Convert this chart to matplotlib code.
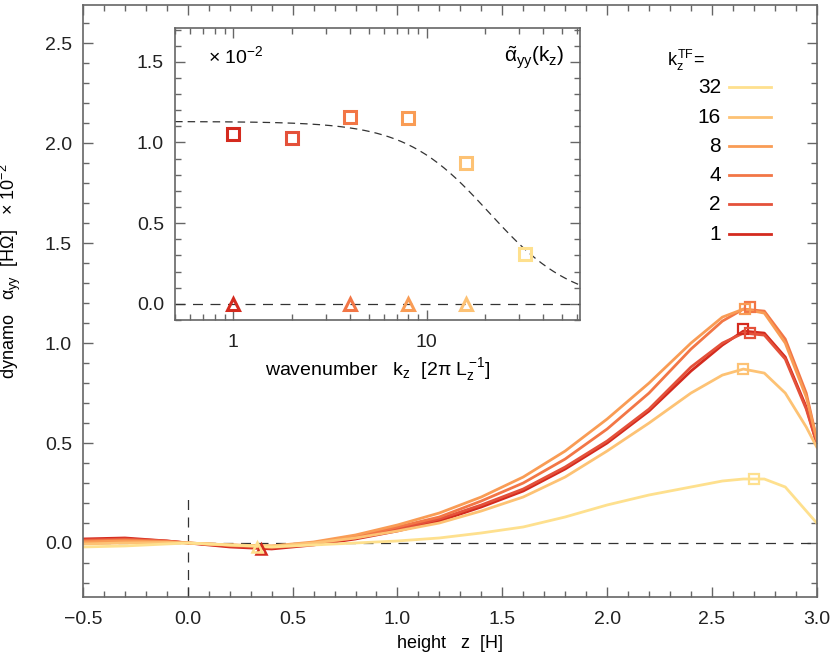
import numpy as np
import matplotlib
matplotlib.use("Agg")
import matplotlib.pyplot as plt
from matplotlib.ticker import MultipleLocator

plt.rcParams["font.family"] = "Liberation Sans"
plt.rcParams["mathtext.fontset"] = "custom"
plt.rcParams["mathtext.rm"] = "Liberation Sans"
plt.rcParams["mathtext.it"] = "Liberation Sans"

labels = ["1", "2", "4", "8", "16", "32"]
colors = ["#D42A1E", "#E4513A", "#F27646", "#F99C55", "#FDC274", "#FEE08E"]
z = [-0.5, -0.3, -0.1, 0, 0.2, 0.4, 0.6, 0.8, 1.0, 1.2, 1.4, 1.6, 1.8, 2.0, 2.2, 2.4, 2.55, 2.65, 2.75, 2.85, 2.95, 3.0]
alpha_k1 = [0.02, 0.025, 0.01, 0, -0.02, -0.03, -0.01, 0.02, 0.06, 0.11, 0.18, 0.26, 0.37, 0.50, 0.66, 0.86, 0.99, 1.06, 1.05, 0.93, 0.68, 0.50]
alpha_k2 = [0.015, 0.02, 0.01, 0, -0.015, -0.025, -0.005, 0.025, 0.07, 0.12, 0.19, 0.27, 0.38, 0.51, 0.67, 0.88, 1.00, 1.05, 1.04, 0.92, 0.67, 0.50]
alpha_k4 = [0.01, 0.015, 0.008, 0, -0.01, -0.02, 0.0, 0.03, 0.08, 0.13, 0.21, 0.30, 0.42, 0.57, 0.75, 0.97, 1.11, 1.17, 1.16, 1.02, 0.75, 0.52]
alpha_k8 = [0.005, 0.01, 0.005, 0, -0.01, -0.015, 0.005, 0.04, 0.09, 0.15, 0.23, 0.33, 0.46, 0.62, 0.80, 1.00, 1.13, 1.17, 1.15, 1.0, 0.73, 0.52]
alpha_k16 = [-0.005, 0, 0.002, 0, -0.01, -0.015, 0, 0.025, 0.06, 0.10, 0.16, 0.23, 0.33, 0.46, 0.60, 0.75, 0.84, 0.87, 0.85, 0.75, 0.58, 0.48]
alpha_k32 = [-0.02, -0.015, -0.005, 0, -0.01, -0.02, -0.01, 0.0, 0.01, 0.025, 0.05, 0.08, 0.13, 0.19, 0.24, 0.28, 0.31, 0.32, 0.32, 0.28, 0.16, 0.10]
peak_z = [2.65, 2.68, 2.68, 2.66, 2.65, 2.70]
peak_a = [1.07, 1.05, 1.18, 1.17, 0.87, 0.32]
tri_z = [0.35, 0.33]
tri_a = [-0.03, -0.02]
tri_col = [0, 5]

kz = [1, 2, 4, 8, 16, 32]
alpha_tilde = [1.05, 1.03, 1.16, 1.15, 0.87, 0.31]
kz_tri = [1, 4, 8, 16]
tri_val = [0.0, 0.0, 0.0, 0.0]
tri_idx = [0, 2, 3, 4]
fit_amp, fit_k0 = 1.13, 21.0

series = [alpha_k1, alpha_k2, alpha_k4, alpha_k8, alpha_k16, alpha_k32]

fig = plt.figure(figsize=(8.30, 6.64), dpi=100)
ax = fig.add_axes([0.100, 0.101, 0.884, 0.891])

def style(a):
    a.tick_params(which="both", direction="in", top=True, right=True, labelsize=14,
                  color="#666", labelcolor="#222")
    a.tick_params(which="major", length=7, width=1)
    a.tick_params(which="minor", length=4, width=1)
    for s in a.spines.values():
        s.set_linewidth(1.2)
        s.set_color("#666")

ax.axhline(0, color="#333", ls=(0, (8, 6)), lw=0.9)
ax.plot([0, 0], [-0.27, 0.25], color="#333", ls=(0, (8, 6)), lw=0.9)
for i in range(6):
    ax.plot(z, series[i], color=colors[i], lw=2)
for i in range(6):
    ax.plot(peak_z[i], peak_a[i], "s", mfc="none", mec=colors[i], mew=1.6, ms=7)
for zz, aa, ci in zip(tri_z, tri_a, tri_col):
    ax.plot(zz, aa, "^", mfc="none", mec=colors[ci], mew=1.8, ms=7)
ax.set_xlim(-0.5, 3.0)
ax.set_ylim(-0.27, 2.69)
ax.set_xticks([-0.5, 0, 0.5, 1.0, 1.5, 2.0, 2.5, 3.0])
ax.set_xticklabels(["\u22120.5", "0.0", "0.5", "1.0", "1.5", "2.0", "2.5", "3.0"])
ax.xaxis.set_minor_locator(MultipleLocator(0.1))
ax.set_yticks([0, 0.5, 1.0, 1.5, 2.0, 2.5])
ax.set_yticklabels(["0.0", "0.5", "1.0", "1.5", "2.0", "2.5"])
ax.yaxis.set_minor_locator(MultipleLocator(0.1))
style(ax)
ax.tick_params(axis="x", pad=10)
ax.tick_params(axis="y", pad=8)
ax.set_xlabel("height   $z$  [H]", fontsize=13, labelpad=4)
ax.set_ylabel(r"dynamo   $\alpha_{\rm yy}$  [H$\Omega$]   $\times\ 10^{-2}$", fontsize=13)
ax.yaxis.set_label_coords(-0.082, 0.55)

# legend
ax.text(2.286, 2.415, r"$k_z^{\rm TF}$=", fontsize=13, va="center")
ly = [1.545, 1.695, 1.84, 1.985, 2.13, 2.28]
for i in range(6):
    ax.plot([2.581, 2.781], [ly[i], ly[i]], color=colors[i], lw=2)
    ax.text(2.543, ly[i], labels[i], fontsize=15, ha="right", va="center")

# inset
ins = fig.add_axes([0.211, 0.518, 0.488, 0.440])
ins.set_xscale("log")
ins.axhline(0, color="#333", ls=(0, (8, 6)), lw=0.9)
kk = np.logspace(np.log10(0.5), np.log10(62), 200)
ins.plot(kk, fit_amp / (1 + (kk / fit_k0) ** 2), color="#333", ls=(0, (6, 4)), lw=0.9)
for i in range(6):
    ins.plot(kz[i], alpha_tilde[i], "s", mfc="none", mec=colors[i], mew=2.2, ms=8)
for k, v, ci in zip(kz_tri, tri_val, tri_idx):
    ins.plot(k, v, "^", mfc="none", mec=colors[ci], mew=2.2, ms=8)
ins.set_xlim(0.5, 62)
ins.set_ylim(-0.1, 1.71)
ins.set_xticks([1, 10])
ins.set_xticklabels(["1", "10"])
ins.set_yticks([0, 0.5, 1.0, 1.5])
ins.set_yticklabels(["0.0", "0.5", "1.0", "1.5"])
ins.yaxis.set_minor_locator(MultipleLocator(0.1))
style(ins)
ins.tick_params(axis="x", pad=10)
ins.tick_params(axis="y", pad=8)
ins.set_xlabel(r"wavenumber   $k_z$  [2$\pi$ $L_z^{-1}$]", fontsize=14)
ins.text(0.08, 0.88, r"$\times\ 10^{-2}$", transform=ins.transAxes, fontsize=14)
ins.text(0.96, 0.88, r"$\tilde{\alpha}_{\rm yy}(k_z)$", transform=ins.transAxes, fontsize=15, ha="right")

fig.savefig("out.png", dpi=100)
